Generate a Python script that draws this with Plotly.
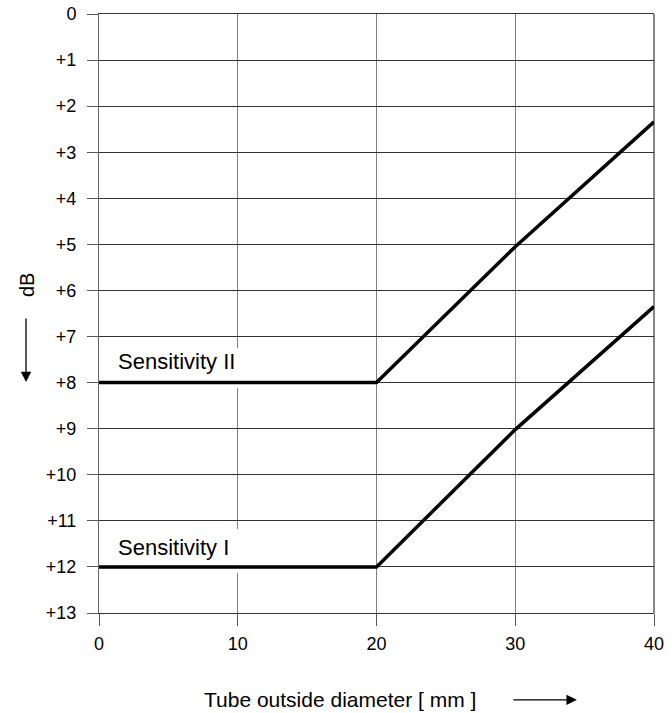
import plotly.graph_objects as go

# Data
diameter = [0, 20, 30, 40]
sensitivity_II = [8, 8, 5.05, 2.34]
sensitivity_I = [12, 12, 9.02, 6.35]

x_ticks = [0, 10, 20, 30, 40]
y_ticks = list(range(0, 14))
y_ticktext = ["0"] + ["+%d" % v for v in range(1, 14)]

FONT = "Liberation Sans, Arial, Helvetica, sans-serif"

fig = go.Figure()
fig.add_trace(go.Scatter(x=diameter, y=sensitivity_II, mode="lines",
                         line=dict(color="black", width=3.5), showlegend=False,
                         hoverinfo="skip"))
fig.add_trace(go.Scatter(x=diameter, y=sensitivity_I, mode="lines",
                         line=dict(color="black", width=3.5), showlegend=False,
                         hoverinfo="skip"))

# white gaps in the 10 mm grid line behind the labels
shapes = [
    dict(type="rect", xref="x", yref="y", x0=9.6, x1=10.4, y0=7.25, y1=8.12,
         fillcolor="white", line=dict(width=0), layer="between"),
    dict(type="rect", xref="x", yref="y", x0=9.6, x1=10.4, y0=11.18, y1=12.13,
         fillcolor="white", line=dict(width=0), layer="between"),
    dict(type="line", xref="paper", yref="paper", x0=1, x1=1, y0=0, y1=1,
         line=dict(color="#111111", width=1)),
]

annotations = [
    dict(x=1.2, y=7.55, xref="x", yref="y", text="Sensitivity II", showarrow=False,
         xanchor="left", yanchor="middle", font=dict(family=FONT, size=22, color="black")),
    dict(x=1.2, y=11.58, xref="x", yref="y", text="Sensitivity I", showarrow=False,
         xanchor="left", yanchor="middle", font=dict(family=FONT, size=22, color="black")),
    # y-axis title and arrow
    dict(x=-0.1297, y=0.5476, xref="paper", yref="paper", text="dB", showarrow=False,
         textangle=-90, xanchor="center", yanchor="middle",
         font=dict(family=FONT, size=20, color="black")),
    dict(x=-0.1315, y=0.3856, xref="paper", yref="paper", text="", showarrow=True,
         ax=0, ay=-65, axref="pixel", ayref="pixel", arrowhead=2, arrowsize=1.6,
         arrowwidth=1.3, arrowcolor="black"),
    # x-axis title and arrow
    dict(x=0.434, y=-0.145, xref="paper", yref="paper", text="Tube outside diameter [ mm ]",
         showarrow=False, xanchor="center", yanchor="middle",
         font=dict(family=FONT, size=21, color="black")),
    dict(x=0.861, y=-0.145, xref="paper", yref="paper", text="", showarrow=True,
         ax=-65, ay=0, axref="pixel", ayref="pixel", arrowhead=2, arrowsize=1.6,
         arrowwidth=1.3, arrowcolor="black"),
]

fig.update_layout(
    width=672, height=713, autosize=False,
    margin=dict(l=99, r=18, t=14, b=100, pad=0, autoexpand=False),
    paper_bgcolor="white", plot_bgcolor="white",
    font=dict(family=FONT, size=18, color="black"),
    shapes=shapes, annotations=annotations,
    xaxis=dict(range=[0, 40], tickmode="array", tickvals=x_ticks,
               ticktext=[str(v) for v in x_ticks], automargin=False,
               showgrid=True, gridcolor="#808080", gridwidth=1,
               zeroline=False, showline=True, linecolor="#333333", linewidth=1,
               mirror=True, ticks="outside", ticklen=12, tickcolor="#555555",
               tickwidth=1, ticklabelstandoff=2,
               tickfont=dict(family=FONT, size=18, color="black")),
    yaxis=dict(range=[13, 0], tickmode="array", tickvals=y_ticks, ticktext=y_ticktext,
               automargin=False,
               showgrid=True, gridcolor="#333333", gridwidth=1,
               zeroline=False, showline=True, linecolor="#666666", linewidth=1,
               mirror=False, ticks="outside", ticklen=11, tickcolor="#555555",
               tickwidth=1, ticklabelstandoff=7,
               tickfont=dict(family=FONT, size=18, color="black")),
)

fig.write_html("out.html",
               config={"displayModeBar": False},
               post_script="document.body.style.margin='0px';"
                           "document.body.style.padding='0px';"
                           "document.body.style.overflow='hidden';")
